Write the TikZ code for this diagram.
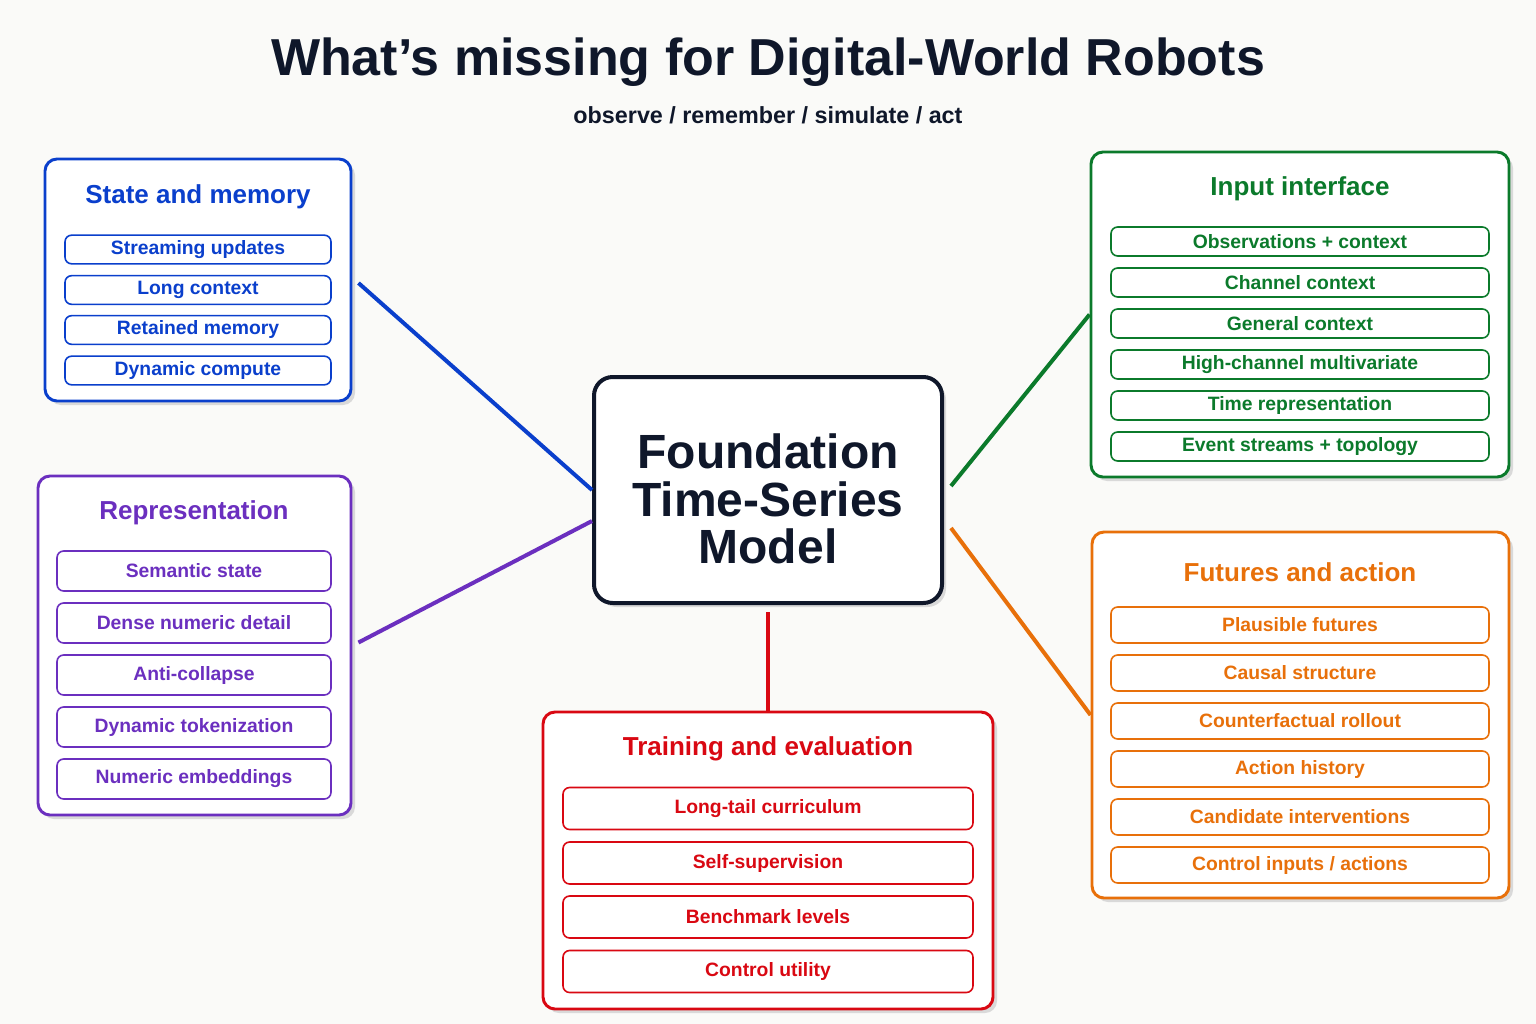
\documentclass[tikz,border=0pt]{standalone}
\usepackage{fontspec}
\setmainfont{Liberation Sans}
\usetikzlibrary{positioning,shadows,calc}
\definecolor{bgcol}{HTML}{FAFAF8}
\definecolor{inkcol}{HTML}{0F172A}
\definecolor{statecol}{HTML}{0A3FCC}
\definecolor{reprcol}{HTML}{6B2FBF}
\definecolor{inputcol}{HTML}{0B7A2B}
\definecolor{futcol}{HTML}{E8700A}
\definecolor{traincol}{HTML}{D90812}
\tikzset{
  groupbox/.style={draw=#1, line width=2.2pt, rounded corners=9pt, fill=white,
    drop shadow={shadow xshift=3pt, shadow yshift=-3pt, fill=black!15, opacity=1}},
  itembox/.style={draw=#1, line width=1.2pt, rounded corners=5pt, fill=white,
    text=#1, font=\bfseries\fontsize{14.5}{16}\selectfont},
  grouptitle/.style={text=#1, font=\bfseries\fontsize{19.5}{22}\selectfont},
  link/.style={draw=#1, line width=3pt}
}
\begin{document}
\begin{tikzpicture}[x=0.75pt, y=-0.75pt]
\useasboundingbox[fill=bgcol] (0,0) rectangle (1536,1024);
% title
\node[text=inkcol, font=\bfseries\fontsize{39}{44}\selectfont] (title) at (768,62) {What's missing for Digital-World Robots};
\node[text=inkcol, font=\bfseries\fontsize{17.5}{20}\selectfont] (subtitle) at (768,115) {observe / remember / simulate / act};

% groups
\node[groupbox=statecol, minimum width=229.5pt, minimum height=181.5pt] (state) at (198,280) {};
\node[grouptitle=statecol] (statet) at (198,197) {State and memory};
\foreach \txt/\y [count=\i] in {Streaming updates/249.5, Long context/290, Retained memory/330, Dynamic compute/370.5}
  \node[itembox=statecol, minimum width=199.5pt, minimum height=21.5pt] (state\i) at (198,\y) {\txt};

\node[groupbox=reprcol, minimum width=234.75pt, minimum height=254.25pt] (repr) at (194.5,645.5) {};
\node[grouptitle=reprcol] (reprt) at (194,513) {Representation};
\foreach \txt/\y [count=\i] in {Semantic state/571, Dense numeric detail/623, Anti-collapse/675, Dynamic tokenization/727, Numeric embeddings/779}
  \node[itembox=reprcol, minimum width=205.5pt, minimum height=30pt] (repr\i) at (194,\y) {\txt};

\node[groupbox=inputcol, minimum width=313.5pt, minimum height=243.75pt] (input) at (1300,314.5) {};
\node[grouptitle=inputcol] (inputt) at (1300,189) {Input interface};
\foreach \txt/\y [count=\i] in {Observations + context/241.5, Channel context/282.5, General context/323.5, High-channel multivariate/364.5, Time representation/405.5, Event streams + topology/446.5}
  \node[itembox=inputcol, minimum width=283.5pt, minimum height=21.75pt] (input\i) at (1300,\y) {\txt};

\node[groupbox=futcol, minimum width=312.75pt, minimum height=274.5pt] (fut) at (1300.5,715) {};
\node[grouptitle=futcol] (futt) at (1300,572) {Futures and action};
\foreach \txt/\y [count=\i] in {Plausible futures/625, Causal structure/673, Counterfactual rollout/721, Action history/769, Candidate interventions/817, {Control inputs / actions}/865}
  \node[itembox=futcol, minimum width=283.5pt, minimum height=27pt] (fut\i) at (1300,\y) {\txt};

\node[groupbox=traincol, minimum width=337.5pt, minimum height=222.75pt] (train) at (768,860.5) {};
\node[grouptitle=traincol] (traint) at (768,749) {Training and evaluation};
\foreach \txt/\y [count=\i] in {Long-tail curriculum/808.5, Self-supervision/863, Benchmark levels/917, Control utility/971.5}
  \node[itembox=traincol, minimum width=307.5pt, minimum height=31.5pt] (train\i) at (768,\y) {\txt};

% centre
\node[draw=inkcol, line width=3pt, rounded corners=14pt, fill=white, minimum width=261pt, minimum height=169.5pt,
  drop shadow={shadow xshift=3pt, shadow yshift=-3pt, fill=black!15, opacity=1}] (center) at (768,490) {};
\node[text=inkcol, align=center, font=\bfseries\fontsize{36}{35.5}\selectfont] (centert) at (768,499) {Foundation\\Time-Series\\Model};

% links
\draw[link=statecol] ($(state.east)+(6,3)$) -- (center.west);
\draw[link=reprcol] ($(repr.east)+(6,-3)$) -- ($(center.west)+(0,31)$);
\draw[link=inputcol] (input.west) -- ($(center.east)+(7,-4)$);
\draw[link=futcol] (fut.west) -- ($(center.east)+(7,38)$);
\draw[link=traincol] ($(center.south)+(0,7)$) -- (train.north);
\end{tikzpicture}
\end{document}
